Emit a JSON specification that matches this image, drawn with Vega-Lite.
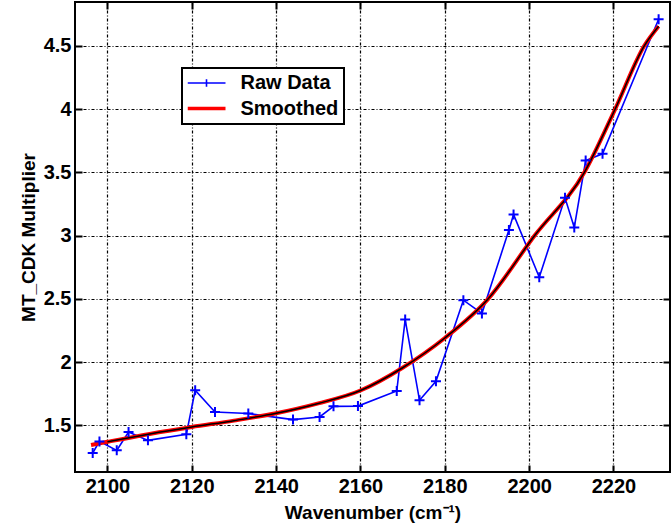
{
  "$schema": "https://vega.github.io/schema/vega-lite/v6.json",
  "width": 595,
  "height": 470,
  "autosize": {"type": "none"},
  "padding": {"left": 75, "top": 2, "right": 1, "bottom": 55},
  "background": "white",
  "config": {
    "view": {"stroke": "black", "strokeWidth": 2},
    "font": "Liberation Sans",
    "axis": {
      "labelFont": "Liberation Sans", "labelFontWeight": "bold", "labelFontSize": 20, "labelColor": "black",
      "titleFont": "Liberation Sans", "titleFontWeight": "bold", "titleFontSize": 19, "titleColor": "black",
      "domain": false, "tickColor": "black", "tickWidth": 2, "tickSize": -7,
      "gridColor": "black", "gridWidth": 1.2, "gridDash": [3, 2, 1, 2], "gridOpacity": 1
    }
  },
  "datasets": {
    "raw": [
      {"x": 2096.5, "y": 1.281}, {"x": 2098.1, "y": 1.373}, {"x": 2102.2, "y": 1.302}, {"x": 2105.0, "y": 1.447},
      {"x": 2109.6, "y": 1.381}, {"x": 2118.7, "y": 1.429}, {"x": 2120.8, "y": 1.777}, {"x": 2125.5, "y": 1.605},
      {"x": 2133.4, "y": 1.593}, {"x": 2144.0, "y": 1.545}, {"x": 2150.3, "y": 1.566}, {"x": 2153.6, "y": 1.65},
      {"x": 2159.4, "y": 1.652}, {"x": 2168.6, "y": 1.771}, {"x": 2170.6, "y": 2.336}, {"x": 2174.0, "y": 1.698},
      {"x": 2177.9, "y": 1.848}, {"x": 2184.4, "y": 2.489}, {"x": 2188.8, "y": 2.384}, {"x": 2195.2, "y": 3.043},
      {"x": 2196.3, "y": 3.167}, {"x": 2202.4, "y": 2.67}, {"x": 2208.5, "y": 3.298}, {"x": 2210.7, "y": 3.064},
      {"x": 2213.4, "y": 3.593}, {"x": 2217.4, "y": 3.646}, {"x": 2230.7, "y": 4.71}
    ],
    "smooth": [
      {"x": 2096.1, "y": 1.345}, {"x": 2100, "y": 1.37}, {"x": 2110, "y": 1.432}, {"x": 2120, "y": 1.487},
      {"x": 2130, "y": 1.537}, {"x": 2140, "y": 1.595}, {"x": 2150, "y": 1.673}, {"x": 2160, "y": 1.775},
      {"x": 2170, "y": 1.955}, {"x": 2180, "y": 2.19}, {"x": 2190.3, "y": 2.5}, {"x": 2201.3, "y": 3.0},
      {"x": 2213.1, "y": 3.5}, {"x": 2220.4, "y": 4.0}, {"x": 2227.3, "y": 4.5},
      {"x": 2230.7, "y": 4.655}
    ]
  },
  "resolve": {"axis": {"x": "independent", "y": "independent"}},
  "layer": [
    {
      "layer": [
        {
          "data": {"name": "raw"},
          "transform": [{"calculate": "'Raw Data'", "as": "series"}],
          "mark": {"type": "line", "strokeWidth": 1.6},
          "encoding": {
            "x": {"field": "x", "type": "quantitative",
              "scale": {"domain": [2092.3, 2233.4], "nice": false, "zero": false},
              "axis": {"orient": "bottom", "values": [2100, 2120, 2140, 2160, 2180, 2200, 2220], "grid": true, "format": "d",
                "labelPadding": 11, "title": "Wavenumber (cm⁻¹)", "titlePadding": 7}},
            "y": {"field": "y", "type": "quantitative",
              "scale": {"domain": [1.131, 4.846], "nice": false, "zero": false},
              "axis": {"orient": "left", "values": [1.5, 2, 2.5, 3, 3.5, 4, 4.5], "grid": true, "format": ".2~f",
                "labelPadding": 11, "title": "MT_CDK Multiplier", "titlePadding": 5}},
            "color": {"field": "series", "type": "nominal",
              "scale": {"domain": ["Raw Data", "Smoothed"], "range": ["#0000ff", "#ff0000"]},
              "legend": {
                "title": null, "orient": "none", "legendX": 107, "legendY": 66,
                "fillColor": "white", "strokeColor": "black", "padding": 5.5,
                "labelFont": "Liberation Sans", "labelFontWeight": "bold", "labelFontSize": 20, "labelColor": "black",
                "symbolSize": 1444, "symbolOffset": 9, "labelOffset": 24, "rowPadding": 4.5, "clipHeight": 19,
                "symbolStrokeWidth": 2,
                "symbolType": "M-1,0H1",
                "encode": {
                  "legend": {"update": {"strokeWidth": {"value": 2}}},
                  "symbols": {"update": {
                    "shape": {"signal": "datum.value === 'Raw Data' ? 'M-1,0H1M0,-0.2V0.2' : 'M-1,0H1'"},
                    "strokeWidth": {"signal": "datum.value === 'Raw Data' ? 1.6 : 3.5"}
                  }}
                }
              }}
          }
        },
        {
          "data": {"name": "smooth"},
          "transform": [{"calculate": "'Smoothed'", "as": "series"}],
          "mark": {"type": "line", "strokeWidth": 4, "interpolate": "monotone"},
          "encoding": {
            "x": {"field": "x", "type": "quantitative"},
            "y": {"field": "y", "type": "quantitative"},
            "color": {"field": "series", "type": "nominal"}
          }
        },
        {
          "data": {"name": "smooth"},
          "transform": [{"filter": "datum.x >= 2097"}],
          "mark": {"type": "line", "strokeWidth": 1.5, "color": "black", "interpolate": "monotone"},
          "encoding": {
            "x": {"field": "x", "type": "quantitative"},
            "y": {"field": "y", "type": "quantitative"}
          }
        }
      ]
    },
    {
      "data": {"name": "raw"},
      "mark": {"type": "point", "shape": "M-1,0H1M0,-1V1", "filled": false, "color": "#0000ff", "size": 100, "strokeWidth": 2, "opacity": 1},
      "encoding": {
        "x": {"field": "x", "type": "quantitative", "axis": {"orient": "top", "values": [2100, 2120, 2140, 2160, 2180, 2200, 2220], "labels": false, "grid": false, "title": null}},
        "y": {"field": "y", "type": "quantitative", "axis": {"orient": "right", "values": [1.5, 2, 2.5, 3, 3.5, 4, 4.5], "labels": false, "grid": false, "title": null}}
      }
    }
  ]
}
